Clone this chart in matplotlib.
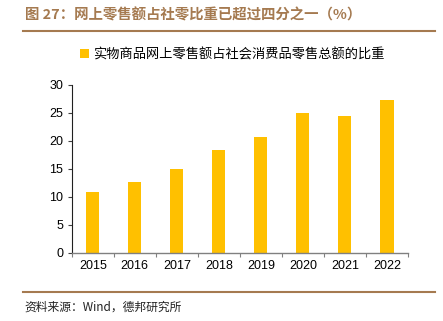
import matplotlib
matplotlib.use('Agg')
import matplotlib.pyplot as plt
from matplotlib.lines import Line2D
import numpy as np

years = ['2015', '2016', '2017', '2018', '2019', '2020', '2021', '2022']
share = [10.8, 12.6, 15.0, 18.4, 20.7, 24.9, 24.5, 27.2]
y_ticks = [0, 5, 10, 15, 20, 25, 30]

title = '图 27：网上零售额占社零比重已超过四分之一（%）'
series_name = '实物商品网上零售额占社会消费品零售总额的比重'
source = '资料来源：Wind，德邦研究所'

bar_color = '#FFC000'
brown = '#A57A50'

plt.rcParams['font.family'] = ['Noto Sans CJK SC', 'DejaVu Sans']

fig = plt.figure(figsize=(4.43, 3.21), dpi=100)
ax = fig.add_axes([0.162, 0.212, 0.759, 0.524])

x = np.arange(len(years))
ax.bar(x, share, width=0.31, color=bar_color, label=series_name, zorder=2)

ax.set_xlim(-0.5, len(years) - 0.5)
ax.set_ylim(0, 30)
ax.set_yticks(y_ticks)
ax.set_yticklabels([str(v) for v in y_ticks], family='Liberation Sans', fontsize=9)

# ticks at category boundaries, labels in the middle
ax.set_xticks(np.arange(-0.5, len(years), 1.0))
ax.set_xticklabels([])
ax.set_xticks(x, minor=True)
ax.set_xticklabels(years, minor=True, family='Liberation Sans', fontsize=9)
ax.tick_params(axis='x', which='major', length=3, color='#808080', direction='out')
ax.tick_params(axis='x', which='minor', length=0, pad=5)
ax.tick_params(axis='y', length=3, color='#404040', direction='out', pad=3)

for s in ['top', 'right']:
    ax.spines[s].set_visible(False)
ax.spines['left'].set_color('#202020')
ax.spines['left'].set_linewidth(0.8)
ax.spines['bottom'].set_color('#808080')
ax.spines['bottom'].set_linewidth(1.0)

fig.legend(loc='center', bbox_to_anchor=(0.524, 0.829), frameon=False,
           handlelength=0.65, handleheight=0.65, handletextpad=0.3,
           prop={'size': 9.5})

fig.text(0.056, 0.952, title, fontsize=10.4, fontweight='bold', color=brown,
         va='center', ha='left')
fig.add_artist(Line2D([0.052, 0.982], [0.904, 0.904], transform=fig.transFigure,
                      color=brown, linewidth=1.5))
fig.add_artist(Line2D([0.052, 0.982], [0.091, 0.091], transform=fig.transFigure,
                      color=brown, linewidth=1.5))
fig.text(0.056, 0.042, source, fontsize=8.5, color='#222222', va='center', ha='left')

fig.savefig('out.png', dpi=100)
